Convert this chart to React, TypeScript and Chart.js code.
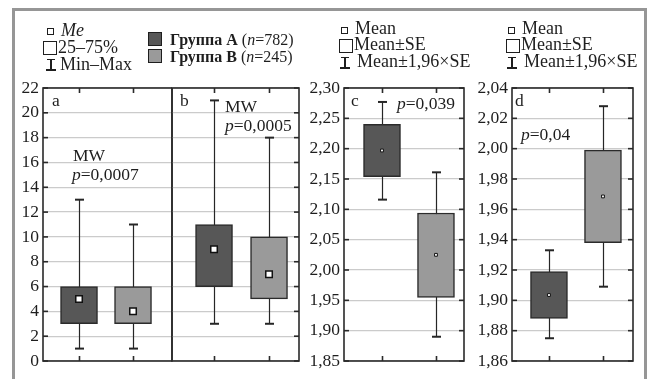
import React, { useEffect, useRef } from "react";
import { Chart, registerables } from "chart.js";

Chart.register(...registerables);

const W = 649;
const H = 379;
const FONT = "'Liberation Serif', 'Times New Roman', serif";

// ---- data ----
const groups = ["Группа A", "Группа B"];
const groupSizes = [782, 245];
const boxColors = ["#575757", "#9a9a9a"];

// panel a: Me, 25–75%, Min–Max
const aMin = [1, 1];
const aQ1 = [3, 3];
const aMed = [5, 4];
const aQ3 = [6, 6];
const aMax = [13, 11];

// panel b: Me, 25–75%, Min–Max
const bMin = [3, 3];
const bQ1 = [6, 5];
const bMed = [9, 7];
const bQ3 = [11, 10];
const bMax = [21, 18];

// panel c: Mean, Mean±SE, Mean±1,96×SE
const cLow = [2.116, 1.89];
const cSeLow = [2.154, 1.955];
const cMean = [2.197, 2.025];
const cSeHigh = [2.24, 2.094];
const cHigh = [2.277, 2.161];

// panel d: Mean, Mean±SE, Mean±1,96×SE
const dLow = [1.875, 1.909];
const dSeLow = [1.888, 1.938];
const dMean = [1.9035, 1.9685];
const dSeHigh = [1.919, 1.999];
const dHigh = [1.933, 2.028];

// tick values
const ticksAB = [0, 2, 4, 6, 8, 10, 12, 14, 16, 18, 20, 22];
const ticksC = [1.85, 1.9, 1.95, 2.0, 2.05, 2.1, 2.15, 2.2, 2.25, 2.3];
const ticksD = [1.86, 1.88, 1.9, 1.92, 1.94, 1.96, 1.98, 2.0, 2.02, 2.04];

type Panel = {
  lo: number[];
  q1: number[];
  mid: number[];
  q3: number[];
  hi: number[];
  yTicks: number[];
  decimals: number;
  area: { left: number; right: number; top: number; bottom: number };
  xMin: number;
  xMax: number;
  showLabels: boolean;
  leftTicks: boolean;
  rightTicks: boolean;
  markerR: number;
  markerBorder: number;
};

const panels: Panel[] = [
  {
    lo: aMin, q1: aQ1, mid: aMed, q3: aQ3, hi: aMax, yTicks: ticksAB, decimals: 0,
    area: { left: 43, right: 172, top: 88, bottom: 361 }, xMin: -0.667, xMax: 1.722,
    showLabels: true, leftTicks: true, rightTicks: false, markerR: 4.6, markerBorder: 1.5,
  },
  {
    lo: bMin, q1: bQ1, mid: bMed, q3: bQ3, hi: bMax, yTicks: ticksAB, decimals: 0,
    area: { left: 172, right: 299, top: 88, bottom: 361 }, xMin: -0.764, xMax: 1.545,
    showLabels: false, leftTicks: false, rightTicks: true, markerR: 4.6, markerBorder: 1.5,
  },
  {
    lo: cLow, q1: cSeLow, mid: cMean, q3: cSeHigh, hi: cHigh, yTicks: ticksC, decimals: 2,
    area: { left: 344, right: 464, top: 88, bottom: 361 }, xMin: -0.704, xMax: 1.519,
    showLabels: true, leftTicks: true, rightTicks: true, markerR: 2, markerBorder: 1,
  },
  {
    lo: dLow, q1: dSeLow, mid: dMean, q3: dSeHigh, hi: dHigh, yTicks: ticksD, decimals: 2,
    area: { left: 512, right: 633, top: 88, bottom: 361 }, xMin: -0.685, xMax: 1.556,
    showLabels: true, leftTicks: true, rightTicks: true, markerR: 2, markerBorder: 1,
  },
];

const Y_W = 40;

function makeDecor(p: Panel) {
  return {
    id: "boxDecor",
    beforeDatasetsDraw(chart: any) {
      const { ctx, scales } = chart;
      const x = scales.x;
      const y = scales.y;
      ctx.save();
      ctx.strokeStyle = "#262626";
      p.lo.forEach((lo, i) => {
        const px = Math.round(x.getPixelForValue(i)) + 0.5;
        const yLo = y.getPixelForValue(lo);
        const yHi = y.getPixelForValue(p.hi[i]);
        ctx.lineWidth = 1.2;
        ctx.beginPath();
        ctx.moveTo(px, yLo);
        ctx.lineTo(px, yHi);
        ctx.stroke();
        ctx.lineWidth = 2;
        [yLo, yHi].forEach((yy) => {
          ctx.beginPath();
          ctx.moveTo(px - 4.5, yy);
          ctx.lineTo(px + 4.5, yy);
          ctx.stroke();
        });
      });
      ctx.restore();
    },
    afterDraw(chart: any) {
      const { ctx, chartArea, scales } = chart;
      const { left, right, top, bottom } = chartArea;
      const x = scales.x;
      const y = scales.y;
      ctx.save();
      ctx.strokeStyle = "#2a2a2a";
      ctx.lineWidth = 1.6;
      ctx.strokeRect(left, top, right - left, bottom - top);
      p.yTicks.forEach((v) => {
        const yy = y.getPixelForValue(v);
        if (p.leftTicks) {
          ctx.beginPath();
          ctx.moveTo(left, yy);
          ctx.lineTo(left + 5, yy);
          ctx.stroke();
        }
        if (p.rightTicks) {
          ctx.beginPath();
          ctx.moveTo(right - 5, yy);
          ctx.lineTo(right, yy);
          ctx.stroke();
        }
      });
      p.mid.forEach((_, i) => {
        const px = Math.round(x.getPixelForValue(i)) + 0.5;
        ctx.beginPath();
        ctx.moveTo(px, top);
        ctx.lineTo(px, top + 5);
        ctx.moveTo(px, bottom - 5);
        ctx.lineTo(px, bottom);
        ctx.stroke();
      });
      ctx.restore();
    },
  };
}

function PanelChart({ p }: { p: Panel }) {
  const ref = useRef<HTMLCanvasElement>(null);
  useEffect(() => {
    const cv = ref.current;
    if (!cv) return;
    const chart = new Chart(cv, {
      type: "bar",
      data: {
        datasets: [
          {
            type: "scatter",
            label: "centre",
            data: p.mid.map((v, i) => ({ x: i, y: v })),
            pointStyle: "rect",
            radius: p.markerR,
            backgroundColor: "#ffffff",
            borderColor: "#111111",
            borderWidth: p.markerBorder,
            order: 0,
          } as any,
          {
            type: "bar",
            label: "box",
            data: p.q1.map((v, i) => ({ x: i, y: [v, p.q3[i]] })),
            backgroundColor: boxColors,
            borderColor: "#2b2b2b",
            borderWidth: 1.5,
            borderSkipped: false,
            barThickness: 37,
            order: 1,
          } as any,
        ],
      },
      options: {
        animation: false,
        responsive: false,
        events: [],
        layout: {
          padding: {
            left: p.area.left - Y_W,
            right: W - p.area.right,
            top: p.area.top,
            bottom: H - p.area.bottom,
          },
        },
        plugins: { legend: { display: false }, tooltip: { enabled: false } },
        scales: {
          x: { type: "linear", display: false, min: p.xMin, max: p.xMax, offset: false },
          y: {
            type: "linear",
            min: p.yTicks[0],
            max: p.yTicks[p.yTicks.length - 1],
            afterBuildTicks: (s: any) => {
              s.ticks = p.yTicks.map((v) => ({ value: v }));
            },
            afterFit: (s: any) => {
              s.width = Y_W;
            },
            grid: { color: "#cbcbcb", lineWidth: 1.3, drawTicks: false },
            border: { display: false },
            ticks: {
              display: p.showLabels,
              padding: 4,
              color: "#1e1e1e",
              font: { family: FONT, size: 17.5 },
              callback: (v: any) => Number(v).toFixed(p.decimals).replace(".", ","),
            },
          },
        },
      } as any,
      plugins: [makeDecor(p)],
    });
    return () => chart.destroy();
  }, []);
  return (
    <canvas
      ref={ref}
      width={W}
      height={H}
      style={{ position: "absolute", left: 0, top: 0, width: W, height: H }}
    />
  );
}

function Txt({ x, base, size = 17.5, children, style }: any) {
  const lh = size;
  const top = base - (lh / 2 + 0.3375 * size);
  return (
    <div
      style={{
        position: "absolute",
        left: x,
        top,
        fontFamily: FONT,
        fontSize: size,
        lineHeight: lh + "px",
        whiteSpace: "nowrap",
        color: "#1e1e1e",
        ...style,
      }}
    >
      {children}
    </div>
  );
}

function Sq({ x, y, s, fill = "#fff", bw = 1 }: any) {
  return (
    <div
      style={{
        position: "absolute",
        left: x,
        top: y,
        width: s,
        height: s,
        boxSizing: "border-box",
        border: `${bw}px solid #1e1e1e`,
        background: fill,
      }}
    />
  );
}

function WhiskerIcon({ cx, y }: any) {
  return (
    <>
      <div style={{ position: "absolute", left: cx - 4, top: y, width: 8, height: 1.3, background: "#1e1e1e" }} />
      <div style={{ position: "absolute", left: cx - 0.6, top: y, width: 1.3, height: 11, background: "#1e1e1e" }} />
      <div style={{ position: "absolute", left: cx - 5, top: y + 10, width: 10, height: 2.2, background: "#1e1e1e" }} />
    </>
  );
}

function MeanLegend({ dx }: { dx: number }) {
  return (
    <>
      <Sq x={341 + dx} y={27} s={7} />
      <Sq x={339 + dx} y={39} s={14} />
      <WhiskerIcon cx={345 + dx} y={57} />
      <Txt x={355 + dx} base={34} size={18}>Mean</Txt>
      <Txt x={354 + dx} base={50.5} size={18}>Mean±SE</Txt>
      <Txt x={357 + dx} base={67} size={18}>Mean±1,96×SE</Txt>
    </>
  );
}

export default function App() {
  return (
    <div
      style={{
        position: "fixed",
        left: 0,
        top: 0,
        width: W,
        height: H,
        overflow: "hidden",
        background: "#ffffff",
      }}
    >
      <div
        style={{
          position: "absolute",
          left: 12,
          top: 8,
          width: 635,
          height: 420,
          boxSizing: "border-box",
          border: "3px solid #969696",
        }}
      />
      {panels.map((p, i) => (
        <PanelChart key={i} p={p} />
      ))}

      {/* legend: Me / 25–75% / Min–Max */}
      <Sq x={47} y={28} s={7} />
      <Sq x={43} y={41} s={14} />
      <WhiskerIcon cx={51} y={59} />
      <Txt x={61} base={36} size={18} style={{ fontStyle: "italic" }}>Me</Txt>
      <Txt x={58} base={53} size={18}>25–75%</Txt>
      <Txt x={60} base={70} size={18}>Min–Max</Txt>

      {/* legend: groups */}
      {groups.map((g, i) => (
        <React.Fragment key={g}>
          <Sq x={148} y={32 + i * 17} s={14} fill={boxColors[i]} bw={1.2} />
          <Txt x={170} base={45.5 + i * 17} size={16}>
            <b>{g}</b> (<i>n</i>={groupSizes[i]})
          </Txt>
        </React.Fragment>
      ))}

      <MeanLegend dx={0} />
      <MeanLegend dx={167} />

      {/* panel annotations */}
      <Txt x={52} base={107}>a</Txt>
      <Txt x={73} base={161.5}>MW</Txt>
      <Txt x={72} base={180.5}><i>p</i>=0,0007</Txt>

      <Txt x={180} base={107}>b</Txt>
      <Txt x={225} base={113}>MW</Txt>
      <Txt x={225} base={132}><i>p</i>=0,0005</Txt>

      <Txt x={351} base={107}>c</Txt>
      <Txt x={397} base={110}><i>p</i>=0,039</Txt>

      <Txt x={515} base={107}>d</Txt>
      <Txt x={521} base={141}><i>p</i>=0,04</Txt>
    </div>
  );
}
